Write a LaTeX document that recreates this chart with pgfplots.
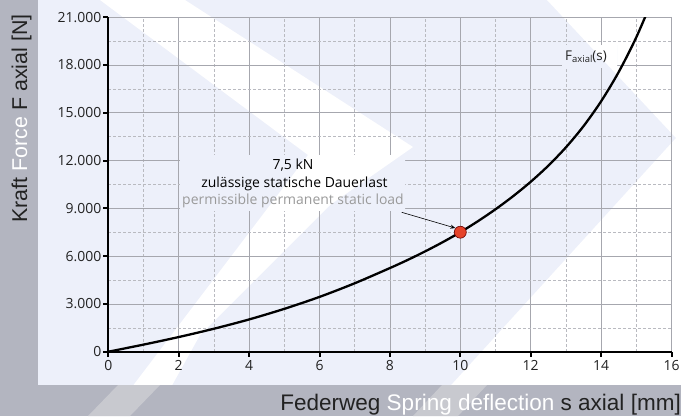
\documentclass[border=0pt]{standalone}
\usepackage{pgfplots}
\pgfplotsset{compat=1.18}
\usetikzlibrary{arrows.meta}
\usepackage{fontspec}
\setmainfont{Open Sans}
\newfontfamily\arialfont{Liberation Sans}
\definecolor{bandgray}{HTML}{B3B5C0}
\definecolor{bandlight}{HTML}{C8C9CF}
\definecolor{panel}{HTML}{EDF0FA}
\definecolor{majgrid}{HTML}{A6A7AE}
\definecolor{mingrid}{HTML}{B9BAC0}
\definecolor{dotred}{HTML}{E5432A}
\definecolor{txtgray}{HTML}{9A9A9A}
\definecolor{txtdark}{HTML}{222222}
\newcommand{\bgfill}{%
  \fill[panel] (0,0) rectangle (691,416);
  \fill[white] (100,0) -- (185,0) -- (413,147) -- (330,205) -- (200,335) -- (155,416) -- (110,416) -- (308,155) -- cycle;
  \fill[white] (547,0) -- (676,138) -- (423,416) -- (691,416) -- (691,0) -- cycle;
}
\begin{document}
\begin{tikzpicture}
\begin{scope}[x=1bp,y=-1bp,yshift=416bp]
  \path[use as bounding box] (0,0) rectangle (691,416);
  \bgfill
  \fill[bandgray] (0,0) rectangle (38,416);
  \fill[bandgray] (0,385) rectangle (681,416);
  \fill[bandlight] (413,416) -- (442,385) -- (487,385) -- (458,416) -- cycle;
  \fill[bandlight] (88,416) -- (118,385) -- (160,385) -- (130,416) -- cycle;
\end{scope}
\begin{axis}[
  at={(108.3bp,64.3bp)}, anchor=south west,
  scale only axis, width=563.2bp, height=334.6bp,
  xmin=0, xmax=16, ymin=0, ymax=21000,
  axis lines=left,
  axis line style={-, line width=2bp, black},
  xtick={0,2,...,16},
  xticklabels={0,2,4,6,8,10,12,14,16},
  ytick={0,3000,...,21000},
  yticklabels={0,3.000,6.000,9.000,12.000,15.000,18.000,21.000},
  scaled y ticks=false, scaled x ticks=false,
  minor x tick num=1, minor y tick num=1,
  grid=both,
  major grid style={majgrid, line width=0.8bp},
  minor grid style={mingrid, dash pattern=on 3bp off 2bp, line width=0.6bp},
  tick align=outside,
  major tick length=5bp, minor tick length=0pt,
  tick style={black, line width=2bp},
  tick label style={font=\fontsize{14}{16}\selectfont, text=txtdark},
  yticklabel style={xshift=1.5bp},
  clip=true,
]
\addplot[black, line width=2.3bp, smooth] coordinates {
 (0,0) (1,445) (2,920) (3,1442) (4,2025) (5,2690) (6,3440) (7,4295)
 (8,5250) (8.5,5755) (9,6295) (9.5,6875) (10,7500) (10.5,8190)
 (11,8940) (11.5,9760) (12,10665) (12.5,11675) (13,12825) (13.5,14155)
 (14,15715) (14.5,17555) (15,19735) (15.5,22315)
};
\draw[-{Stealth[length=5bp,width=4bp]}, line width=0.6bp] (axis cs:8.335,8749) -- (axis cs:9.86,7760);
\addplot[only marks, mark=*, mark size=6bp, mark options={fill=dotred, draw=black!60!red, line width=0.6bp}] coordinates {(10,7500)};
\end{axis}
\begin{scope}[x=1bp,y=-1bp,yshift=416bp]
  \begin{scope}
    \clip (180,155) rectangle (405,210);
    \bgfill
  \end{scope}
  \begin{scope}
    \clip (562,45) rectangle (617,67);
    \bgfill
  \end{scope}
  \node[anchor=base, inner sep=0, font=\fontsize{14}{16}\selectfont, text=black] at (293,169) {7,5 kN};
  \node[anchor=base, inner sep=0, font=\fontsize{14}{16}\selectfont, text=black] at (294.5,187) {zulässige statische Dauerlast};
  \node[anchor=base, inner sep=0, font=\fontsize{14}{16}\selectfont, text=txtgray] at (293,204) {permissible permanent static load};
  \node[anchor=base west, inner sep=0, font=\fontsize{13.5}{15}\selectfont, text=txtdark] at (565,60) {F{\fontsize{9.5}{10}\selectfont\raisebox{-2.5bp}{axial}}(s)};
  \node[rotate=90, anchor=base west, inner sep=0, font=\arialfont\fontsize{21.5}{24}\selectfont] at (27,223) {\textcolor{txtdark}{Kraft} \textcolor{white}{Force} \textcolor{txtdark}{F axial [N]}};
  \node[anchor=base east, inner sep=0, font=\arialfont\fontsize{22.6}{24}\selectfont] at (681,410) {\textcolor{txtdark}{Federweg} \textcolor{white}{Spring deflection} \textcolor{txtdark}{s axial [mm]}};
\end{scope}
\end{tikzpicture}
\end{document}
